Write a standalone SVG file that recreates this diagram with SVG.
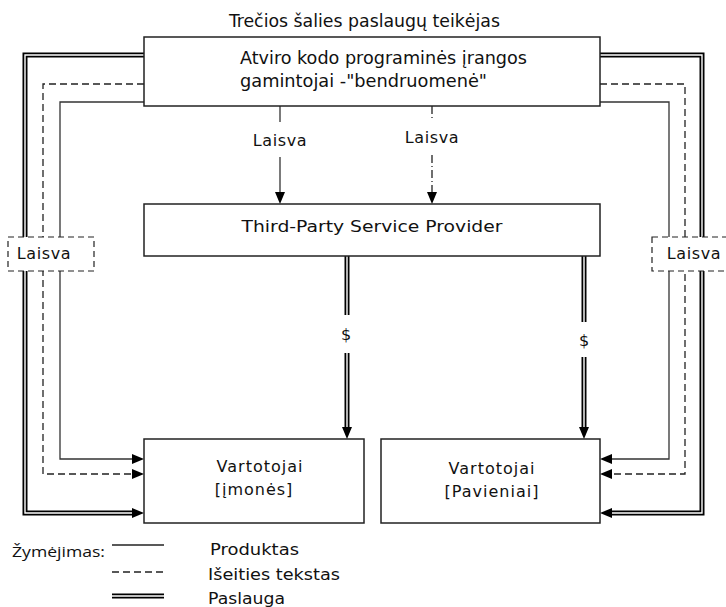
<svg xmlns="http://www.w3.org/2000/svg" width="726" height="607" viewBox="0 0 726 607">
<style>
.box{fill:#fff;stroke:#222;stroke-width:1.5}
.lbox{fill:#fff;stroke:#222;stroke-width:1.2;stroke-dasharray:6,4}
.t{font-family:"DejaVu Sans Condensed","DejaVu Sans",sans-serif;fill:#111}
.d{font-family:"DejaVu Sans",Verdana,sans-serif;fill:#111}
.o{font-family:"Open Sans","Noto Sans",sans-serif;fill:#111}
.sol{fill:none;stroke:#333;stroke-width:1.3}
.dash{fill:none;stroke:#222;stroke-width:1.3;stroke-dasharray:7,4}
.dd{fill:none;stroke:#222;stroke-width:1.3;stroke-dasharray:8,3,1,3}
.dblo{fill:none;stroke:#000;stroke-width:5}
.dbli{fill:none;stroke:#fff;stroke-width:1.4}
</style>
<defs>
<marker id="ah" markerUnits="userSpaceOnUse" markerWidth="13" markerHeight="12" refX="0" refY="5" orient="auto" viewBox="0 0 13 10">
<path d="M0,0 L12,5 L0,10 z" fill="#000"/>
</marker>
</defs>

<text class="t" x="229" y="27" font-size="17" textLength="271" lengthAdjust="spacingAndGlyphs">Trečios šalies paslaugų teikėjas</text>

<g id="connectors">
<path class="dblo" d="M144,55 H25 V513 H132" marker-end="url(#ah)"/>
<path class="dbli" d="M144,55 H25 V513 H132"/>
<path class="dblo" d="M600,55 H702 V513 H612" marker-end="url(#ah)"/>
<path class="dbli" d="M600,55 H702 V513 H612"/>
<path class="dash" d="M144,84 H43 V474 H132"/>
<path class="dash" d="M600,84 H685 V474 H612"/>
<path class="sol" d="M144,102 H60 V459 H132" marker-end="url(#ah)"/>
<path class="sol" d="M600,102 H669 V459 H612" marker-end="url(#ah)"/>
<path d="M132,469 L144,474 L132,479 z" fill="#000"/>
<path d="M612,469 L600,474 L612,479 z" fill="#000"/>
<path class="sol" d="M280,106 V122"/>
<path class="sol" d="M280,157 V192" marker-end="url(#ah)"/>
<path class="dd" d="M432,106 V121"/>
<path class="dd" d="M432,155 V192"/>
<path d="M427,192 L432,204 L437,192 z" fill="#000"/>
<path class="dblo" d="M347,256 V315"/>
<path class="dbli" d="M347,256 V315"/>
<path class="dblo" d="M347,353 V427" marker-end="url(#ah)"/>
<path class="dbli" d="M347,353 V427"/>
<path class="dblo" d="M584,256 V322"/>
<path class="dbli" d="M584,256 V322"/>
<path class="dblo" d="M584,357 V427" marker-end="url(#ah)"/>
<path class="dbli" d="M584,357 V427"/>
</g>

<text class="d" x="280" y="146" font-size="16" text-anchor="middle" letter-spacing="0.6">Laisva</text>
<text class="d" x="432" y="143" font-size="16" text-anchor="middle" letter-spacing="0.6">Laisva</text>
<text class="d" x="346" y="340" font-size="16" text-anchor="middle">$</text>
<text class="d" x="584" y="346" font-size="16" text-anchor="middle">$</text>

<g id="laisva-left">
<rect class="lbox" x="8" y="237" width="86" height="34"/>
<text class="d" x="44" y="259" font-size="16" text-anchor="middle" letter-spacing="0.6">Laisva</text>
</g>
<g id="laisva-right">
<rect class="lbox" x="652" y="237" width="84" height="34"/>
<text class="d" x="694" y="259" font-size="16" text-anchor="middle" letter-spacing="0.6">Laisva</text>
</g>

<g id="community">
<rect class="box" x="144" y="37" width="456" height="69"/>
<text class="t" x="240" y="64" font-size="17" textLength="287" lengthAdjust="spacingAndGlyphs">Atviro kodo programinės įrangos</text>
<text class="t" x="240" y="87" font-size="17" textLength="247" lengthAdjust="spacingAndGlyphs">gamintojai -"bendruomenė"</text>
</g>

<g id="provider">
<rect class="box" x="144" y="204" width="456" height="52"/>
<text class="d" x="372" y="232" font-size="16" text-anchor="middle" textLength="261" lengthAdjust="spacingAndGlyphs">Third-Party Service Provider</text>
</g>

<g id="enterprises">
<rect class="box" x="144" y="439" width="220" height="84"/>
<text class="d" x="260" y="472" font-size="16" text-anchor="middle" letter-spacing="1">Vartotojai</text>
<text class="d" x="254" y="495" font-size="16" text-anchor="middle" letter-spacing="1">[įmonės]</text>
</g>

<g id="individuals">
<rect class="box" x="381" y="439" width="219" height="84"/>
<text class="d" x="492" y="474" font-size="16" text-anchor="middle" letter-spacing="1">Vartotojai</text>
<text class="d" x="492" y="497" font-size="16" text-anchor="middle" letter-spacing="1">[Pavieniai]</text>
</g>

<g id="legend">
<text class="o" x="12" y="557" font-size="15" textLength="93" lengthAdjust="spacingAndGlyphs">Žymėjimas:</text>
<line x1="112" y1="545" x2="164" y2="545" stroke="#222" stroke-width="1.3"/>
<line x1="112" y1="572" x2="164" y2="572" stroke="#222" stroke-width="1.3" stroke-dasharray="7,4"/>
<line x1="112" y1="596" x2="164" y2="596" stroke="#000" stroke-width="5"/>
<line x1="112" y1="596" x2="164" y2="596" stroke="#fff" stroke-width="1.4"/>
<text class="d" x="210" y="555" font-size="15" textLength="89" lengthAdjust="spacingAndGlyphs">Produktas</text>
<text class="d" x="208" y="580" font-size="15" textLength="132" lengthAdjust="spacingAndGlyphs">Išeities tekstas</text>
<text class="d" x="208" y="604" font-size="15" textLength="77" lengthAdjust="spacingAndGlyphs">Paslauga</text>
</g>
</svg>
